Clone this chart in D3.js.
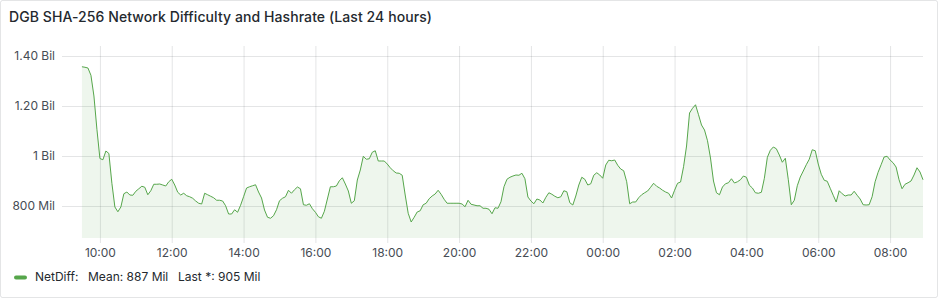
<!DOCTYPE html>
<html>
<head>
<meta charset="utf-8">
<script src="https://cdn.jsdelivr.net/npm/d3@7"></script>
<style>
  body { margin: 0; background: #fff; font-family: Inter, "Noto Sans", sans-serif; }
  .tick text { font-family: Inter, "Noto Sans", sans-serif; }
</style>
</head>
<body>
<div id="chart"></div>
<script>
const title = "DGB SHA-256 Network Difficulty and Hashrate (Last 24 hours)"
const seriesName = "NetDiff"
const legendStats = [["Mean", "887 Mil"], ["Last *", "905 Mil"]]

// network difficulty in millions, one point every 5 minutes from 09:30
const netDiff = [
  1357, 1355, 1352, 1323, 1240, 1107, 990, 985, 1020, 1010, 891, 796, 777, 796, 849, 856,
  844, 843, 859, 869, 879, 875, 845, 861, 887, 887, 888, 884, 880, 897, 907, 884,
  855, 844, 851, 841, 837, 831, 820, 811, 808, 851, 845, 839, 833, 823, 823, 820,
  801, 768, 768, 785, 775, 803, 837, 872,
  877, 881, 885, 856, 832, 784, 755, 751, 761, 785, 821, 831, 837, 863, 851, 865,
  876, 869, 805, 803, 809, 789, 775, 757, 751, 779, 828, 877, 877, 880, 901, 913,
  888, 860, 811, 821, 904, 944, 999, 987, 989, 1015, 1021, 980, 980, 980, 968, 953,
  941, 932, 931, 923, 844, 771, 736, 755, 776,
  781, 805, 811, 829, 840, 848, 863, 847, 827, 811, 811, 811, 811, 811, 808, 797,
  823, 807, 804, 801, 801, 791, 791, 787, 769, 793, 791, 817, 877, 907, 915, 920,
  924, 923, 931, 909, 836, 820, 809, 828, 824, 812, 835, 853, 847, 839, 833, 837,
  861, 857, 813, 804, 840, 884, 915, 907, 884,
  889, 923, 933, 924, 911, 964, 983, 981, 984, 963, 948, 941, 897, 809, 816, 816,
  833, 845, 853, 860, 875, 891, 879, 872, 863, 856, 851, 832, 863, 891, 896, 957,
  1040, 1172, 1191, 1205, 1165, 1124, 1104, 1061, 992, 900, 853, 845, 876, 889, 893, 909,
  892, 897, 905, 920, 915, 883, 872, 853,
  851, 855, 911, 995, 1023, 1036, 1029, 1004, 975, 991, 905, 805, 823, 881, 916, 940,
  965, 987, 1025, 1021, 968, 927, 903, 899, 871, 843, 816, 861, 849, 840, 844, 844,
  859, 843, 828, 805, 804, 805, 837, 897, 935, 965, 996, 999, 984, 973, 956, 905,
  869, 887, 893, 900, 924, 953, 936, 905
]
const startTime = new Date(2024, 0, 1, 9, 30)
const rangeStart = new Date(2024, 0, 1, 8, 55)
const rangeEnd = new Date(2024, 0, 2, 8, 55)

const yTicks = [800, 1000, 1200, 1400]
const yTickLabels = ["800 Mil", "1 Bil", "1.20 Bil", "1.40 Bil"]
const yMin = 672, yMax = 1440

const W = 940, H = 300
const PLOT = { LEFT: 61, RIGHT: 923, TOP: 46, BOTTOM: 238 }
const GREEN = "#56A64B"
const GRID = "rgba(36,41,46,0.12)"

const data = netDiff.map((v, i) => ({ t: d3.timeMinute.offset(startTime, i * 5), v: v }))

const svg = d3.select("#chart").append("svg")
    .attr("width", W)
    .attr("height", H)

// panel frame
svg.append("rect")
    .attr("x", 0.5).attr("y", 0.5)
    .attr("width", W - 3).attr("height", H - 3)
    .attr("rx", 2)
    .attr("fill", "#fff")
    .attr("stroke", GRID)

svg.append("text")
    .attr("x", 9)
    .attr("y", 21.5)
    .attr("font-size", "14px")
    .attr("font-weight", 500)
    .attr("letter-spacing", "0.08px")
    .attr("fill", "#24292e")
    .text(title)

const x = d3.scaleTime()
    .domain([rangeStart, rangeEnd])
    .range([PLOT.LEFT, PLOT.RIGHT])

const y = d3.scaleLinear()
    .domain([yMin, yMax])
    .range([PLOT.BOTTOM, PLOT.TOP])

// axes with grid lines
const xAxisCall = d3.axisBottom(x)
    .ticks(d3.timeHour.every(2))
    .tickFormat(d3.timeFormat("%H:%M"))
    .tickSize(-(PLOT.BOTTOM + 5 - PLOT.TOP))
    .tickPadding(5)

const yAxisCall = d3.axisLeft(y)
    .tickValues(yTicks)
    .tickFormat((d, i) => yTickLabels[i])
    .tickSize(-(PLOT.RIGHT - 62))
    .tickPadding(7)

const xAxisGroup = svg.append("g")
    .attr("transform", `translate(0, ${PLOT.BOTTOM + 5})`)
    .call(xAxisCall)
const yAxisGroup = svg.append("g")
    .attr("transform", `translate(62, 0)`)
    .call(yAxisCall)

for (const g of [xAxisGroup, yAxisGroup]) {
    g.select(".domain").remove()
    g.selectAll(".tick line").attr("stroke", GRID)
    g.selectAll(".tick text")
        .attr("font-size", "12px")
        .attr("fill", "#464c54")
}

// area + line
const area = d3.area()
    .x(d => x(d.t))
    .y0(PLOT.BOTTOM)
    .y1(d => y(d.v))

const line = d3.line()
    .x(d => x(d.t))
    .y(d => y(d.v))

svg.append("path")
    .datum(data)
    .attr("d", area)
    .attr("fill", GREEN)
    .attr("fill-opacity", 0.1)

svg.append("path")
    .datum(data)
    .attr("d", line)
    .attr("fill", "none")
    .attr("stroke", GREEN)
    .attr("stroke-width", 1)

// legend
const legend = svg.append("g").attr("transform", "translate(14, 281)")
legend.append("rect")
    .attr("x", 0).attr("y", -5.5)
    .attr("width", 13).attr("height", 4)
    .attr("rx", 2)
    .attr("fill", GREEN)

legend.append("text")
    .attr("x", 21)
    .attr("y", 0)
    .attr("font-size", "12px")
    .attr("fill", "#24292e")
    .text(seriesName + ":")

const statX = [74, 164]
legendStats.forEach((s, i) => {
    legend.append("text")
        .attr("x", statX[i])
        .attr("y", 0)
        .attr("font-size", "12px")
        .attr("fill", "#24292e")
        .text(`${s[0]}: ${s[1]}`)
})
</script>
</body>
</html>
